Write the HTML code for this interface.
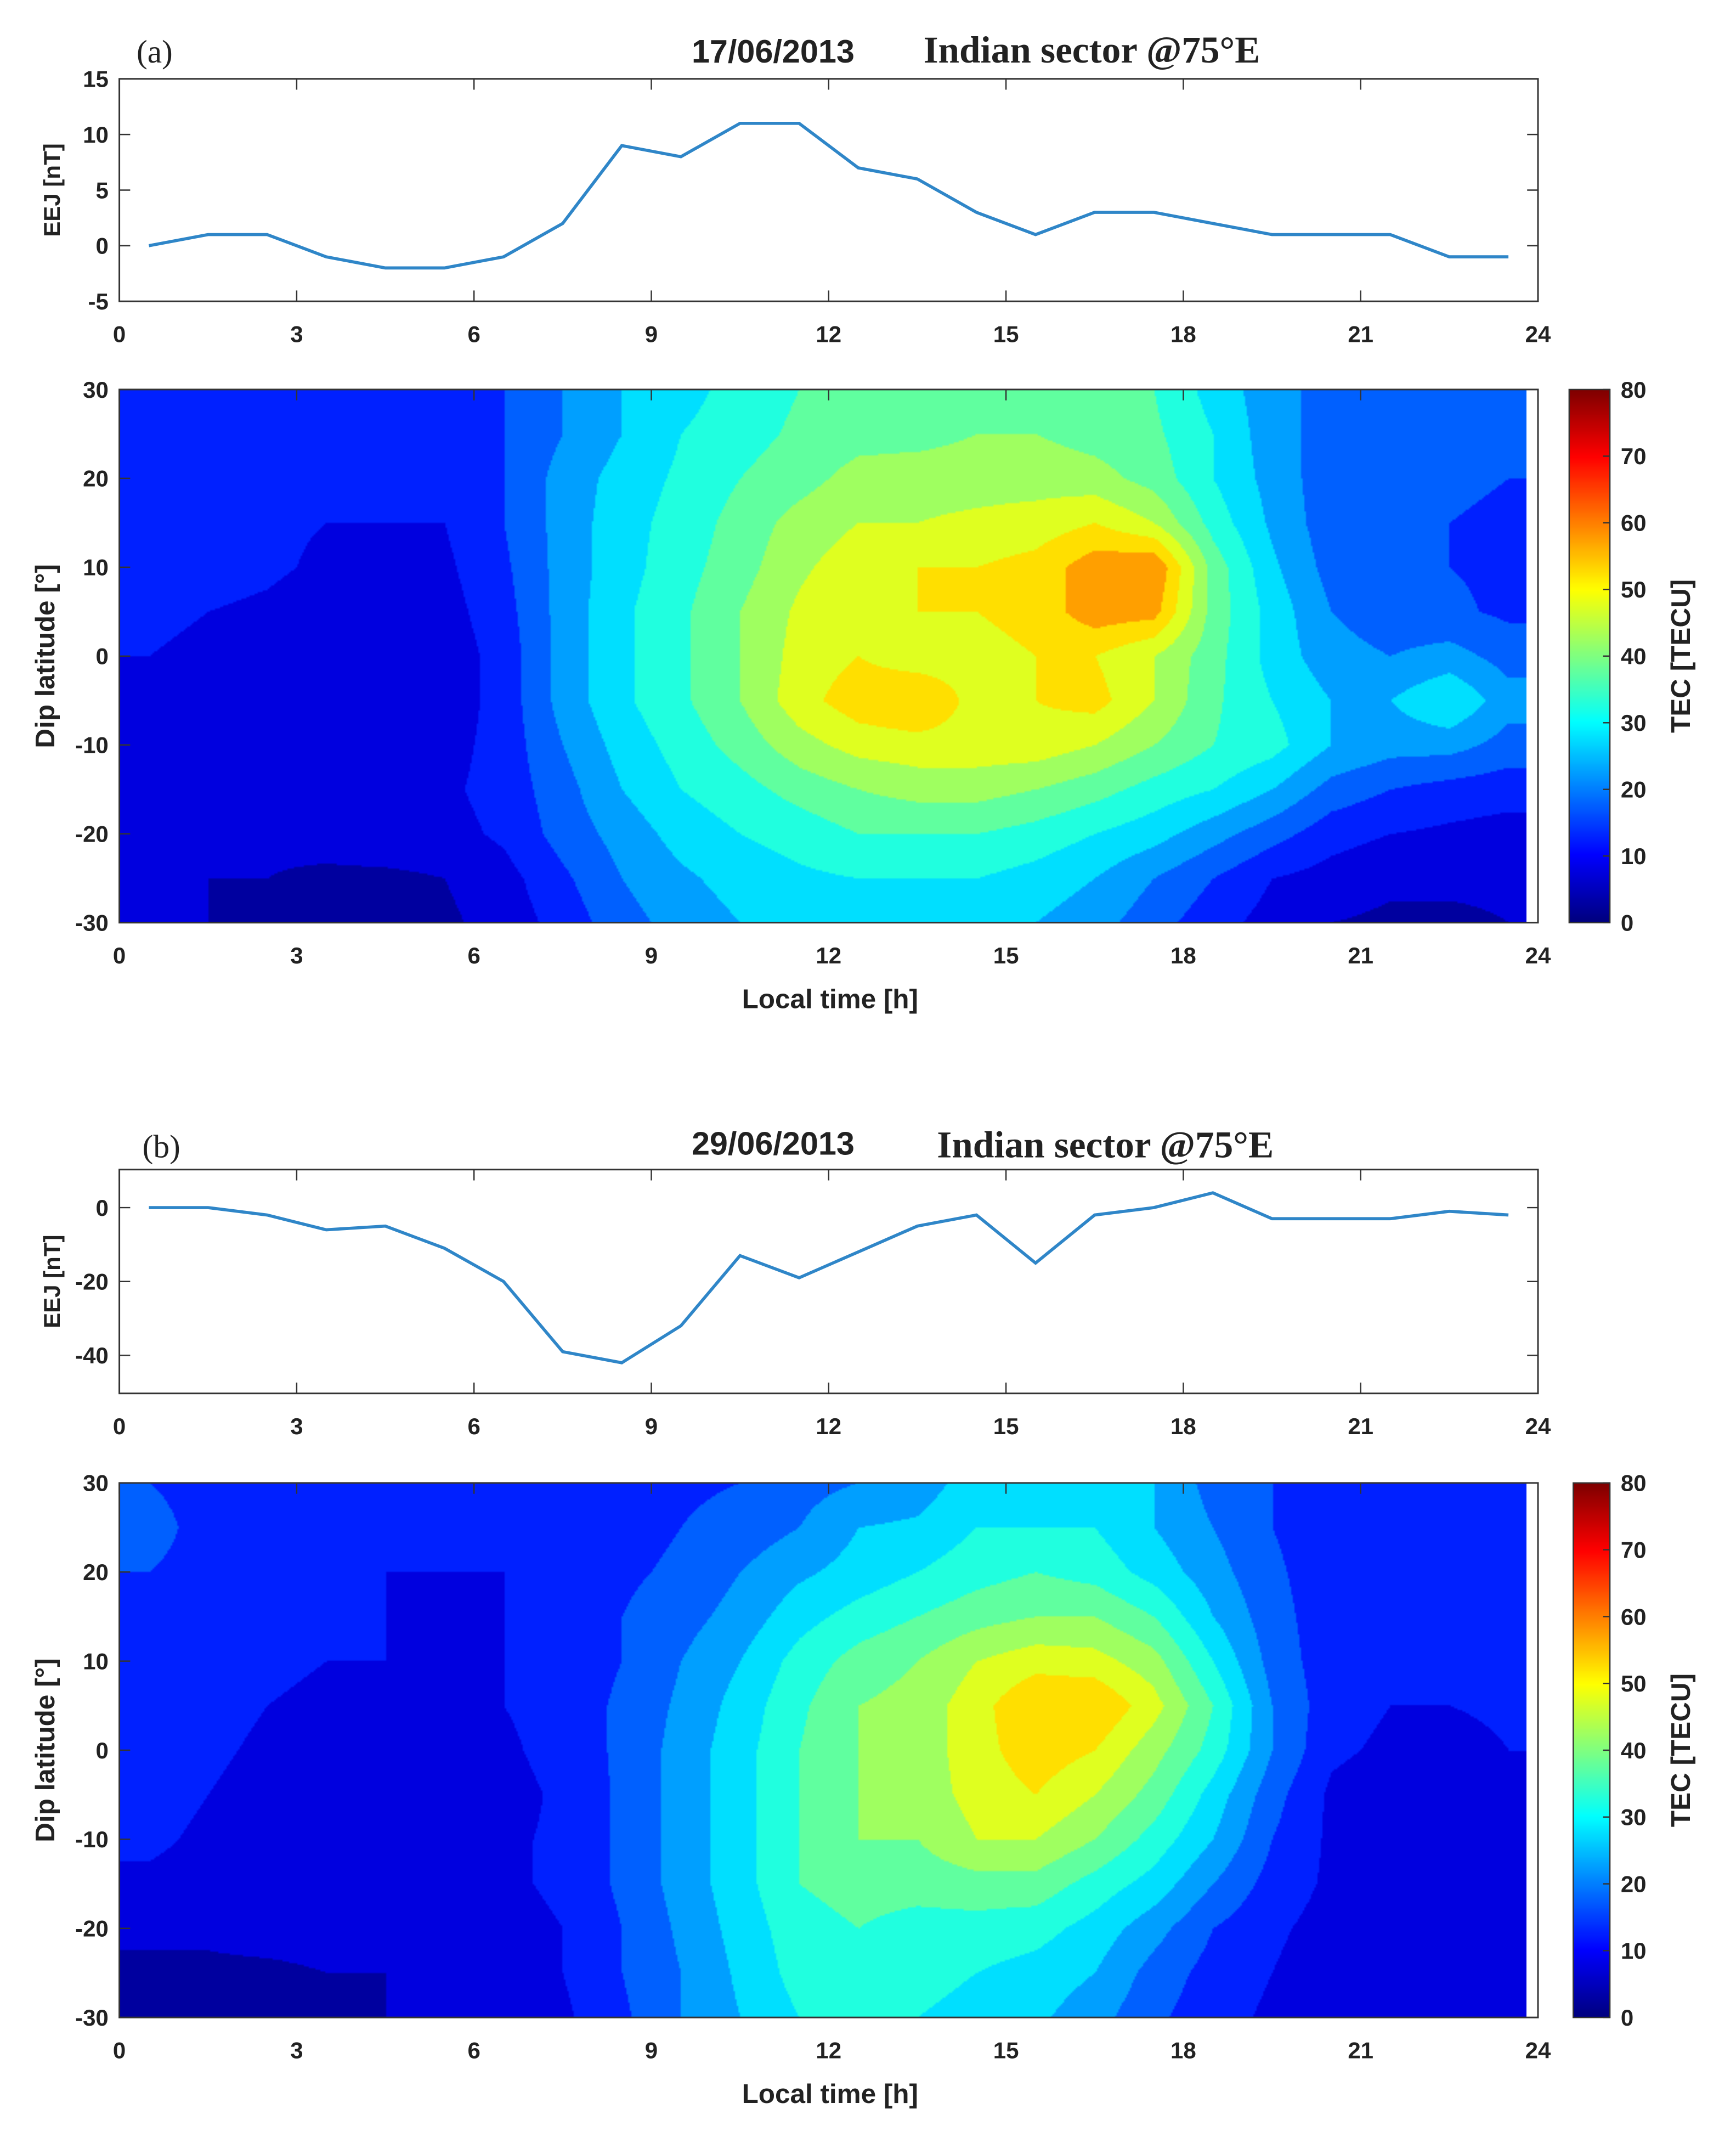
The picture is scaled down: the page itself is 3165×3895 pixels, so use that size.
<!DOCTYPE html>
<html><head><meta charset="utf-8">
<style>
html,body{margin:0;padding:0;background:#fff;}
#page{position:relative;width:3165px;height:3895px;overflow:hidden;background:#fff;}
svg{position:absolute;left:0;top:0;}
canvas{position:absolute;}
</style></head>
<body>
<div id="page">
<canvas id="hmA"></canvas>
<canvas id="hmB"></canvas>
<canvas id="cbA"></canvas>
<canvas id="cbB"></canvas>
<svg id="svg" width="3165" height="3895" viewBox="0 0 1280 1575"></svg>
</div>
<script>
// ---------- data ----------
const hours = [0.5,1.5,2.5,3.5,4.5,5.5,6.5,7.5,8.5,9.5,10.5,11.5,12.5,13.5,14.5,15.5,16.5,17.5,18.5,19.5,20.5,21.5,22.5,23.5];
const eejA = [0,1,1,-1,-2,-2,-1,2,9,8,11,11,7,6,3,1,3,3,2,1,1,1,-1,-1];
const eejB = [0,0,-2,-6,-5,-11,-20,-39,-42,-32,-13,-19,-12,-5,-2,-15,-2,0,4,-3,-3,-3,-1,-2];
const lats = [30,25,20,15,10,5,0,-5,-10,-15,-20,-25,-30];
const tecA = [
[12,14,12,10,10,12,15,20,25,28,32,35,35,35,38,38,35,35,28,22,18,18,20,18],
[12,13,12,10,10,11,15,20,25,30,33,36,38,38,40,40,38,36,30,22,18,17,18,16],
[12,12,11,10,10,10,15,22,27,31,35,38,42,43,43,43,42,38,30,23,17,16,16,15],
[12,12,11,10,10,10,15,22,28,32,37,42,45,45,46,47,50,45,33,24,17,15,15,14],
[12,12,11,9,8,9,14,22,28,33,38,44,48,50,50,52,58,60,38,26,18,15,15,14],
[11,10,9,7,6,8,13,22,29,34,40,46,50,50,50,52,58,57,38,28,20,17,16,14],
[10,9,7,5,5,7,12,22,29,34,40,47,50,47,48,50,50,45,37,28,22,20,22,18],
[9,6,7,5,5,7,12,22,29,34,40,48,53,55,48,50,52,45,36,30,25,25,30,22],
[10,8,7,6,6,8,12,20,27,32,37,43,47,48,48,48,45,40,35,32,25,22,22,18],
[8,8,8,8,8,9,12,18,25,30,33,37,40,42,42,40,37,33,30,25,18,15,13,12],
[6,6,6,7,8,8,11,17,22,27,30,32,35,35,35,33,30,27,22,17,12,10,9,8],
[5,5,5,4,4,5,8,14,20,24,27,29,30,30,30,28,25,20,15,10,8,6,6,6],
[5,5,4,3,3,4,7,12,18,22,25,27,27,27,26,25,22,17,12,8,5,4,4,5]];
const tecB = [
[15,12,12,12,10,10,10,12,12,14,15,18,20,22,28,30,28,25,18,15,12,12,12,12],
[18,12,12,12,10,10,10,12,13,15,17,20,25,26,30,30,30,25,20,15,12,12,12,12],
[15,12,13,12,10,10,10,12,14,16,20,24,27,30,33,35,33,28,22,16,12,12,12,12],
[13,12,12,11,10,8,10,12,15,18,22,28,32,35,38,40,40,35,25,17,12,12,12,12],
[12,12,11,10,10,8,10,12,15,20,25,32,37,40,45,48,47,42,30,18,12,11,12,12],
[12,12,10,9,9,8,10,12,16,21,27,34,40,42,48,55,55,47,35,20,12,10,10,11],
[12,11,9,8,8,7,9,12,16,22,28,35,40,42,48,53,50,42,33,20,11,9,8,10],
[12,10,8,8,7,5,8,11,16,22,28,35,40,42,47,50,45,38,28,17,9,7,6,9],
[11,9,8,8,8,7,9,11,16,22,28,35,40,40,45,45,40,33,25,15,9,7,7,9],
[9,8,8,8,8,8,9,11,16,22,28,35,37,37,38,38,33,28,20,13,9,8,8,9],
[6,6,7,7,7,7,8,10,15,21,27,33,35,33,33,32,28,22,15,11,8,7,7,8],
[4,4,4,5,5,6,7,10,15,20,26,32,33,32,30,28,25,18,13,10,7,6,6,7],
[4,4,4,4,5,5,6,9,14,20,25,30,33,30,28,26,22,16,12,9,7,6,6,7]];
const xTicks = [0,3,6,9,12,15,18,21,24];
const latTicks = [30,20,10,0,-10,-20,-30];
const eejTicksA = [15,10,5,0,-5];
const eejTicksB = [0,-20,-40];
const cbTicks = [0,10,20,30,40,50,60,70,80];

// ---------- helpers ----------
const S = 3165/1280;
const NS = 'http://www.w3.org/2000/svg';
const svg = document.getElementById('svg');
const X0 = 88, X1 = 1134;
const xs = h => X0 + (X1 - X0) * h / 24;
function mk(tag, attrs, parent){ const e=document.createElementNS(NS,tag); for(const k in attrs) e.setAttribute(k,attrs[k]); (parent||svg).appendChild(e); return e; }
function txt(s,x,y,opts,name){ const t=mk('text',Object.assign({x:x,y:y,'font-family':'Liberation Sans, sans-serif','font-size':17,'font-weight':'bold',fill:'#222','text-anchor':'middle'},opts||{})); t.textContent=s;
 
 
 return t; }
function jet(v){
 const r=Math.min(Math.max(1.5-Math.abs(4*v-3),0),1), g=Math.min(Math.max(1.5-Math.abs(4*v-2),0),1), b=Math.min(Math.max(1.5-Math.abs(4*v-1),0),1);
 return [r*255,g*255,b*255]; }

function linePanel(data, ticks, yTop, yBot, vTop, vBot, pref){
 const ys = v => yTop + (yBot-yTop)*(vTop - v)/(vTop - vBot);
 const box = mk('rect',{x:X0,y:yTop,width:X1-X0,height:yBot-yTop,fill:'none',stroke:'#333','stroke-width':1.2});
 
 
 ticks.forEach(v=>{ mk('line',{x1:X0,x2:X0+8,y1:ys(v),y2:ys(v),stroke:'#333'}); mk('line',{x1:X1,x2:X1-8,y1:ys(v),y2:ys(v),stroke:'#333'});
  txt(String(v),X0-8,ys(v)+6,{'text-anchor':'end'},pref+'-eej-ytick'); });
 xTicks.forEach(h=>{ mk('line',{x1:xs(h),x2:xs(h),y1:yBot,y2:yBot-8,stroke:'#333'}); mk('line',{x1:xs(h),x2:xs(h),y1:yTop,y2:yTop+8,stroke:'#333'});
  txt(String(h),xs(h),yBot+30,{},pref+'-eej-xtick'); });
 const pts = data.map((v,i)=>xs(hours[i])+','+ys(v)).join(' ');
 const pl = mk('polyline',{points:pts,fill:'none',stroke:'#2f86c8','stroke-width':2.3});
 
 
 txt('EEJ [nT]',0,0,{transform:'translate(44,'+((yTop+yBot)/2)+') rotate(-90)'},pref+'-eej-ylabel');
}

function heatPanel(grid, canvasId, cbId, yTop, yBot, cbX0, cbX1, pref){
 const ys = lat => yTop + (yBot-yTop)*(30-lat)/60;
 const hEnd = 23.8;
 const cv = document.getElementById(canvasId);
 const W = Math.round((xs(hEnd)-X0)*S), H = Math.round((yBot-yTop)*S);
 const rw = Math.round(W/3), rh = Math.round(H/3);
 cv.width = rw; cv.height = rh;
 cv.style.left = (X0*S)+'px'; cv.style.top=(yTop*S)+'px'; cv.style.width=W+'px'; cv.style.height=H+'px';
 const ctx = cv.getContext('2d'); const img = ctx.createImageData(rw,rh);
 for(let py=0;py<rh;py++){
  const lat = 30 - 60*(py+0.5)/rh;
  let fr = (30-lat)/5; fr=Math.min(Math.max(fr,0),lats.length-1);
  const r0=Math.floor(fr), r1=Math.min(r0+1,lats.length-1), ty=fr-r0;
  for(let px=0;px<rw;px++){
   const h = hEnd*(px+0.5)/rw;
   let fc = h-0.5; fc=Math.min(Math.max(fc,0),hours.length-1);
   const c0=Math.floor(fc), c1=Math.min(c0+1,hours.length-1), tx=fc-c0;
   const v = (grid[r0][c0]*(1-tx)+grid[r0][c1]*tx)*(1-ty)+(grid[r1][c0]*(1-tx)+grid[r1][c1]*tx)*ty;
   const q = (Math.floor(v/5)+0.5)*5;
   const c = jet(q/80); const k=(py*rw+px)*4;
   img.data[k]=c[0]; img.data[k+1]=c[1]; img.data[k+2]=c[2]; img.data[k+3]=255;
  }
 }
 ctx.putImageData(img,0,0);
 const cb = document.getElementById(cbId);
 cb.width = 1; cb.height = 256;
 cb.style.left=(cbX0*S)+'px'; cb.style.top=(yTop*S)+'px'; cb.style.width=((cbX1-cbX0)*S)+'px'; cb.style.height=((yBot-yTop)*S)+'px';
 const cctx=cb.getContext('2d'); const ci=cctx.createImageData(1,256);
 for(let i=0;i<256;i++){ const c=jet(1-i/255); ci.data[i*4]=c[0];ci.data[i*4+1]=c[1];ci.data[i*4+2]=c[2];ci.data[i*4+3]=255; }
 cctx.putImageData(ci,0,0);
 const cbBox = mk('rect',{x:cbX0,y:yTop,width:cbX1-cbX0,height:yBot-yTop,fill:'none',stroke:'#333','stroke-width':1});
 
 
 cbTicks.forEach(v=>{ const y = yBot - (yBot-yTop)*v/80; mk('line',{x1:cbX1,x2:cbX1-5,y1:y,y2:y,stroke:'#333'});
  txt(String(v),cbX1+8,y+6,{'text-anchor':'start'},pref+'-colorbar-tick'); });
 txt('TEC [TECU]',0,0,{transform:'translate(1246,'+((yTop+yBot)/2)+') rotate(-90)','font-size':20},pref+'-colorbar-label');
 const box = mk('rect',{x:X0,y:yTop,width:X1-X0,height:yBot-yTop,fill:'none',stroke:'#333','stroke-width':1.2});
 
 
 latTicks.forEach(v=>{ mk('line',{x1:X0,x2:X0+8,y1:ys(v),y2:ys(v),stroke:'#333'});
  txt(String(v),X0-8,ys(v)+6,{'text-anchor':'end'},pref+'-lat-ytick'); });
 xTicks.forEach(h=>{ mk('line',{x1:xs(h),x2:xs(h),y1:yTop,y2:yTop+8,stroke:'#333'});
  txt(String(h),xs(h),yBot+30,{},pref+'-tec-xtick'); });
 txt('Local time [h]',612,yBot+63,{'font-size':20},pref+'-xlabel');
 txt('Dip latitude [°]',0,0,{transform:'translate(40,'+((yTop+yBot)/2)+') rotate(-90)','font-size':20},pref+'-tec-ylabel');
}

// ---------- panel (a) ----------
txt('(a)',114,46,{'font-family':'Liberation Serif, serif','font-size':24,'font-weight':'normal'},'panel-a-label');
txt('17/06/2013',570,46,{'font-size':24},'panel-a-date');
txt('Indian sector @75°E',805,46,{'font-family':'Liberation Serif, serif','font-size':28},'panel-a-title');
linePanel(eejA, eejTicksA, 58, 222, 15, -5, 'a');
heatPanel(tecA,'hmA','cbA',287,680,1157,1187,'a');

// ---------- panel (b) ----------
txt('(b)',119,853,{'font-family':'Liberation Serif, serif','font-size':24,'font-weight':'normal'},'panel-b-label');
txt('29/06/2013',570,851,{'font-size':24},'panel-b-date');
txt('Indian sector @75°E',815,853,{'font-family':'Liberation Serif, serif','font-size':28},'panel-b-title');
linePanel(eejB, eejTicksB, 862, 1027, 10.3, -50.3, 'b');
heatPanel(tecB,'hmB','cbB',1093,1487,1160,1187,'b');
</script>
</body></html>
